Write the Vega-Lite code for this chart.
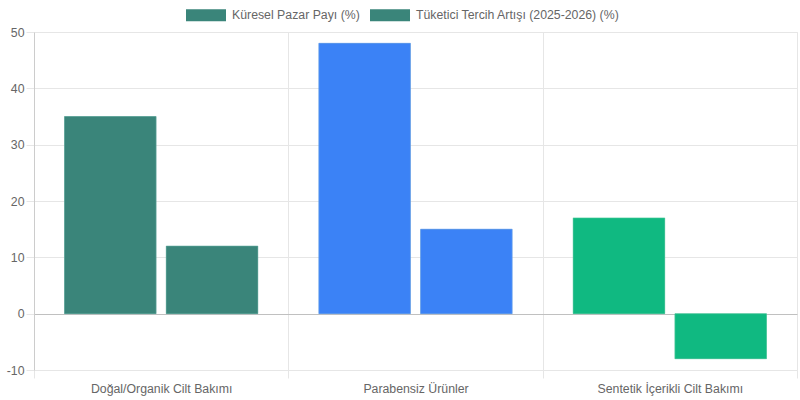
{
  "$schema": "https://vega.github.io/schema/vega-lite/v6.json",
  "width": 763,
  "height": 338,
  "autosize": {"type": "none"},
  "padding": {"left": 34, "top": 32, "right": 3, "bottom": 30},
  "data": {
    "values": [
      {"kategori": "Doğal/Organik Cilt Bakımı", "seri": "Küresel Pazar Payı (%)", "deger": 35},
      {"kategori": "Doğal/Organik Cilt Bakımı", "seri": "Tüketici Tercih Artışı (2025-2026) (%)", "deger": 12},
      {"kategori": "Parabensiz Ürünler", "seri": "Küresel Pazar Payı (%)", "deger": 48},
      {"kategori": "Parabensiz Ürünler", "seri": "Tüketici Tercih Artışı (2025-2026) (%)", "deger": 15},
      {"kategori": "Sentetik İçerikli Cilt Bakımı", "seri": "Küresel Pazar Payı (%)", "deger": 17},
      {"kategori": "Sentetik İçerikli Cilt Bakımı", "seri": "Tüketici Tercih Artışı (2025-2026) (%)", "deger": -8}
    ]
  },
  "encoding": {
    "x": {
      "field": "kategori",
      "type": "nominal",
      "sort": null,
      "title": null,
      "scale": {"paddingInner": 0, "paddingOuter": 0},
      "axis": {
        "labelAngle": 0,
        "tickBand": "extent",
        "grid": true,
        "gridColor": "#e6e6e6",
        "tickColor": "#e6e6e6",
        "tickSize": 8,
        "domain": false,
        "labelPadding": 4,
        "labelFont": "Liberation Sans",
        "labelFontSize": 12.3,
        "labelColor": "#666666"
      }
    },
    "xOffset": {
      "field": "seri",
      "type": "nominal",
      "sort": null,
      "scale": {"paddingInner": 0.1, "paddingOuter": 0.3}
    },
    "y": {
      "field": "deger",
      "type": "quantitative",
      "title": null,
      "scale": {"domain": [-10, 50], "nice": false, "zero": false},
      "axis": {
        "values": [-10, 0, 10, 20, 30, 40, 50],
        "labelExpr": "'' + datum.value",
        "gridColor": {"condition": {"test": "datum.value === 0", "value": "#c0c0c0"}, "value": "#e6e6e6"},
        "tickColor": "#e6e6e6",
        "tickSize": 8,
        "domainColor": "#cccccc",
        "labelPadding": 2,
        "labelFont": "Liberation Sans",
        "labelFontSize": 12.3,
        "labelColor": "#666666"
      }
    }
  },
  "layer": [
    {
      "mark": {"type": "bar"},
      "encoding": {
        "color": {
          "field": "seri",
          "type": "nominal",
          "sort": null,
          "title": null,
          "scale": {"range": ["#3a857a", "#3a857a"]},
          "legend": {
            "orient": "none",
            "direction": "horizontal",
            "legendX": 152,
            "legendY": -37,
            "symbolType": "M-1,-0.3H1V0.3H-1Z",
            "symbolSize": 1600,
            "symbolStrokeWidth": 0,
            "symbolOpacity": 1,
            "labelFont": "Liberation Sans",
            "labelFontSize": 12.3,
            "labelColor": "#666666",
            "labelLimit": 0,
            "labelOffset": 6,
            "columnPadding": 10
          }
        }
      }
    },
    {
      "mark": {"type": "bar", "strokeWidth": 1, "strokeOpacity": 0.6},
      "encoding": {
        "fill": {
          "field": "kategori",
          "type": "nominal",
          "sort": null,
          "legend": null,
          "scale": {"range": ["#3a857a", "#3b82f6", "#10b981"]}
        },
        "stroke": {
          "field": "kategori",
          "type": "nominal",
          "sort": null,
          "legend": null,
          "scale": {"range": ["#5fa99c", "#6ea3f8", "#4fcf9f"]}
        }
      }
    }
  ],
  "config": {
    "view": {"stroke": "#e6e6e6"},
    "font": "Liberation Sans"
  }
}
